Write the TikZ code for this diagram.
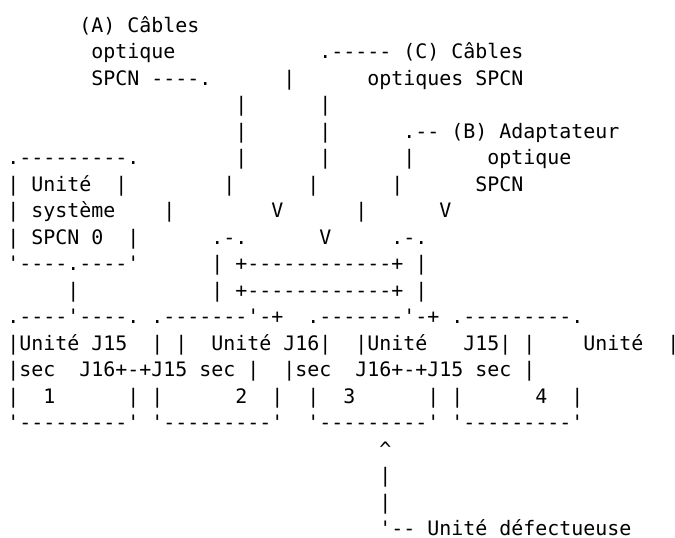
\documentclass[tikz,border=0pt]{standalone}
\usepackage{fontspec}
\setmonofont{DejaVu Sans Mono}
\frenchspacing

\begin{document}
\begin{tikzpicture}[x=9pt,y=-19.875pt,
    txt/.style={anchor=base west,inner sep=0pt,font=\ttfamily\fontsize{14.95}{18}\selectfont}]
    \useasboundingbox (-0.5833,-0.2189) rectangle (55.667,20.083);

    % row/column/text, one column = one character
    \foreach \r/\c/\t [count=\n] in {
        1/6/{(A) Câbles},
        2/7/{optique}, 2/26/{.----- (C) Câbles},
        3/7/{SPCN ----.}, 3/23/{|}, 3/30/{optiques SPCN},
        4/19/{|}, 4/26/{|},
        5/19/{|}, 5/26/{|}, 5/33/{.-- (B) Adaptateur},
        6/0/{.---------.}, 6/19/{|}, 6/26/{|}, 6/33/{|}, 6/40/{optique},
        7/0/{| Unité}, 7/9/{|}, 7/18/{|}, 7/25/{|}, 7/32/{|}, 7/39/{SPCN},
        8/0/{| système}, 8/13/{|}, 8/22/{V}, 8/29/{|}, 8/36/{V},
        9/0/{| SPCN 0}, 9/10/{|}, 9/17/{.-.}, 9/26/{V}, 9/32/{.-.},
        10/0/{'----.----'}, 10/17/{| +------------+ |},
        11/5/{|}, 11/17/{| +------------+ |},
        12/0/{.----'----. .-------'-+}, 12/25/{.-------'-+ .---------.},
        13/0/{|Unité J15}, 13/12/{| |}, 13/17/{Unité J16|}, 13/29/{|Unité},
        13/38/{J15| |}, 13/48/{Unité}, 13/55/{|},
        14/0/{|sec}, 14/6/{J16+-+J15 sec |}, 14/23/{|sec}, 14/29/{J16+-+J15 sec |},
        15/0/{|}, 15/3/{1}, 15/10/{| |}, 15/19/{2}, 15/22/{|}, 15/25/{|},
        15/28/{3}, 15/35/{| |}, 15/44/{4}, 15/47/{|},
        16/0/{'---------' '---------'}, 16/25/{'---------' '---------'},
        17/31/{\textasciicircum},
        18/31/{|}, 19/31/{|},
        20/31/{'-- Unité défectueuse}}
        \node[txt] (s\n) at (\c,\r) {\t};
\end{tikzpicture}
\end{document}
